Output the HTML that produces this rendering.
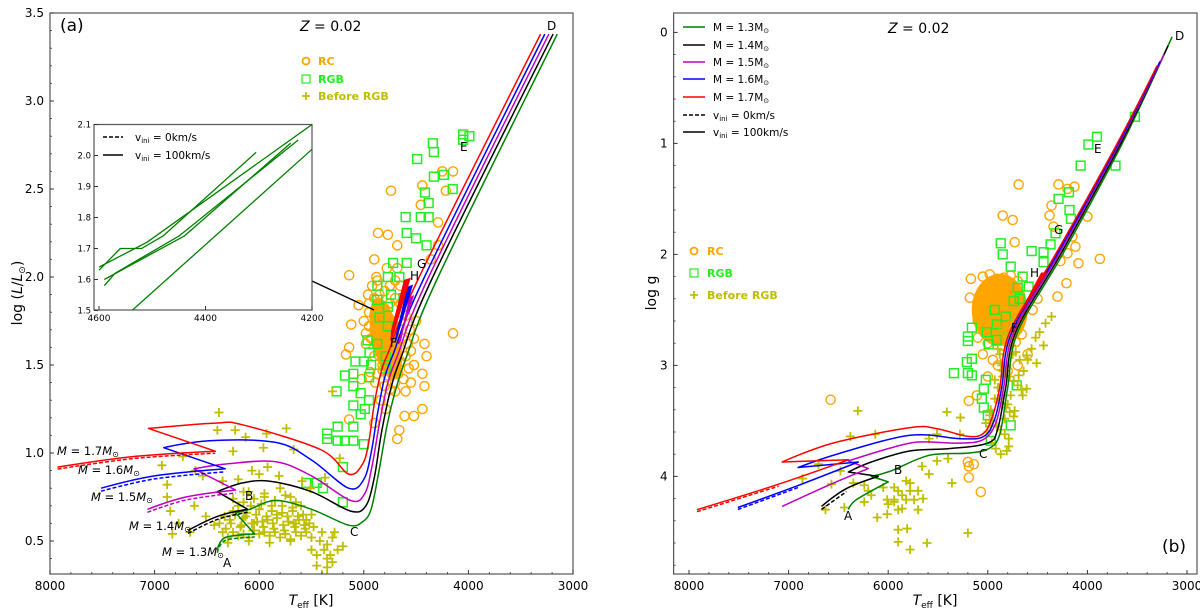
<!DOCTYPE html>
<html><head><meta charset="utf-8">
<style>
html,body{margin:0;padding:0;background:#fff;}
svg{display:block;font-family:"DejaVu Sans","Liberation Sans",sans-serif;}
</style></head>
<body>
<svg id="fig" width="1200" height="616" viewBox="0 0 1200 616" xmlns="http://www.w3.org/2000/svg"></svg>
<script>
// ---------- DATA: panel (a) tracks [Teff, logL] ----------
const trackA13 = [[6401,0.45],[6324,0.52],[6043,0.54],[6227,0.66],[6092,0.68],[5841,0.73],[5500,0.68],[5145,0.59],[5010,0.61],[4930,0.68],[4860,0.88],[4780,1.15],[4700,1.35],[4590,1.55],[4290,2.0],[3150,3.38]];
const trackA14 = [[6681,0.56],[6400,0.64],[6111,0.68],[6401,0.78],[6159,0.83],[5899,0.84],[5500,0.78],[5126,0.67],[4980,0.70],[4900,0.86],[4830,1.12],[4740,1.37],[4640,1.55],[4340,2.0],[3190,3.38]];
const trackA15 = [[7068,0.68],[6700,0.75],[6227,0.79],[6623,0.91],[6285,0.94],[5841,0.95],[5500,0.87],[5126,0.73],[4990,0.77],[4920,0.93],[4850,1.17],[4770,1.40],[4680,1.55],[4380,2.0],[3230,3.38]];
const trackA16 = [[7512,0.80],[7000,0.87],[6324,0.91],[6913,1.03],[6478,1.07],[5841,1.06],[5500,0.96],[5145,0.80],[5000,0.85],[4930,1.0],[4870,1.22],[4800,1.43],[4720,1.56],[4420,2.0],[3270,3.38]];
const trackA17 = [[7928,0.92],[7200,0.98],[6420,1.01],[7058,1.14],[6420,1.17],[6159,1.16],[5415,1.02],[5145,0.88],[5010,0.94],[4950,1.07],[4900,1.28],[4830,1.47],[4760,1.58],[4470,2.0],[3310,3.38]];
const clumpA = {red:[[4740,1.64],[4560,1.99],[4610,1.98],[4730,1.70]],blue:[[4700,1.63],[4540,1.95],[4580,1.94],[4690,1.66]],magenta:[[4670,1.62],[4530,1.89],[4560,1.88],[4650,1.64]]};
// ---------- DATA: panel (b) tracks [Teff, log g] ----------
const trackB13 = [[6400,4.30],[6320,4.21],[6000,4.05],[6170,4.00],[5970,3.95],[5590,3.81],[5200,3.79],[4990,3.75],[4880,3.62],[4800,3.2],[4700,2.7],[4250,2.0],[3650,1.0],[3150,0.04]];
const trackB14 = [[6670,4.27],[6420,4.11],[6100,4.00],[6400,3.96],[6170,3.87],[5780,3.77],[5390,3.75],[5000,3.70],[4900,3.57],[4820,3.2],[4720,2.7],[4270,2.0],[3665,1.0],[3190,0.12]];
const trackB15 = [[7065,4.27],[6600,4.08],[6200,3.93],[6400,3.86],[6000,3.75],[5700,3.69],[5300,3.70],[5050,3.67],[4920,3.52],[4840,3.2],[4740,2.7],[4290,2.0],[3680,1.0],[3230,0.2]];
const trackB16 = [[7510,4.28],[6900,4.08],[6300,3.87],[6905,3.92],[6480,3.79],[5780,3.63],[5280,3.66],[5040,3.64],[4930,3.48],[4860,3.2],[4760,2.7],[4305,2.0],[3690,1.0],[3270,0.26]];
const trackB17 = [[7920,4.30],[7100,4.07],[6400,3.85],[7065,3.87],[6555,3.70],[5780,3.56],[5510,3.57],[5200,3.64],[5040,3.61],[4950,3.45],[4880,3.2],[4780,2.7],[4320,2.0],[3700,1.0],[3300,0.3]];
const clumpB = [[4690,2.55],[4420,2.17],[4460,2.17],[4670,2.52]];
// ---------- DATA: inset (Teff, logL) for 1.3 Msun ----------
const insetLines = [
 [[4600,1.63],[4560,1.70],[4520,1.70],[4480,1.74],[4305,2.01]],
 [[4590,1.58],[4570,1.62],[4450,1.74],[4226,2.05]],
 [[4600,1.64],[4510,1.72],[4200,2.10]],
 [[4538,1.50],[4200,2.02]],
 [[4590,1.60],[4440,1.74],[4240,2.04]]];
// ---------- DATA: panel (a) stars ----------
const rcA_T = [4950,4900,4850,4800,4750,4700,4650,4950,4900,4850,4800,4750,4700,4650,4600,4950,4900,4850,4800,4750,4700,4650,4600,4930,4880,4830,4780,4730,4680,4630,4580,4900,4850,4800,4750,4700,4650,4600,4550,4870,4820,4770,4720,4670,4620,4570,4520,4800,4750,4700,4600,4550,4980,5000,4960,4880,4780,4680,4560,4520,4500,5140,4740,4864,4770,4680,4900,4250,4147,4215,4440,4455,4290,4147,5140,5170,5140,4900,4680,4660,4610,4520,4440,4420,4440,4400,4420,4290,4360,5120,5020,4700,4920,4870,4820,4980,5050,4940,4890,4840,4790];
const rcA_L = [1.85,1.88,1.90,1.92,1.95,1.98,1.95,1.80,1.78,1.80,1.82,1.85,1.88,1.85,1.90,1.72,1.70,1.72,1.74,1.76,1.72,1.75,1.78,1.65,1.62,1.64,1.66,1.62,1.60,1.65,1.62,1.55,1.55,1.57,1.52,1.55,1.52,1.55,1.58,1.45,1.47,1.44,1.48,1.45,1.42,1.48,1.50,1.38,1.36,1.40,1.35,1.40,1.62,1.75,1.90,2.00,2.05,2.05,1.70,1.65,1.75,2.01,2.49,2.25,2.24,2.18,2.10,2.60,2.60,2.49,2.52,2.41,2.31,1.68,1.60,1.56,1.19,1.17,1.08,1.13,1.21,1.21,1.25,1.38,1.45,1.55,1.62,2.18,2.10,1.73,1.42,1.35,1.95,1.98,1.50,1.68,1.84,1.46,1.40,1.30,1.25];
const rgbA_T = [4050,3990,4050,4340,4330,4490,4330,4235,4150,4415,4380,4600,4455,4380,4590,4500,4400,4720,4590,4870,4770,4660,4870,4740,4620,4770,4850,4770,4965,4870,4945,4790,5000,5080,4930,4790,5180,5100,4950,5260,5100,5030,4950,5100,5030,4990,5100,5250,5350,5350,5250,5180,5100,5000,5200,5550,5450,5390,5200];
const rgbA_L = [2.81,2.80,2.78,2.76,2.71,2.67,2.57,2.58,2.50,2.48,2.42,2.34,2.34,2.34,2.25,2.22,2.18,2.08,2.08,1.95,2.00,2.00,1.87,1.90,1.88,1.83,1.77,1.72,1.64,1.62,1.57,1.55,1.52,1.52,1.50,1.48,1.44,1.45,1.43,1.35,1.38,1.34,1.30,1.27,1.22,1.25,1.15,1.15,1.11,1.08,1.07,1.07,1.07,1.05,0.92,0.83,0.83,0.80,0.72];
const preA_T = [6385,6400,6230,5740,5930,6130,5670,5230,5300,5960,6250,6730,6930,6610,6540,6350,6880,6070,5920,5810,5590,5510,5370,6850,6770,6620,6510,6660,6830,6430,6880,6300,6200,6100,6000,5900,5800,5700,5600,5500,6320,6180,6060,5960,5860,5760,5660,5560,6280,6150,6020,5920,5830,5720,5620,5520,6250,6120,6000,5880,5780,5680,5580,5500,5450,5350,5300,5450,5350,5250,5200,5350,5400,5300,5400,5350,6100,6200,6000,5950,5800,5700,5600,5500,6150,6050,5650,
 6350,6250,6150,6050,5950,5850,5750,5650,5550,6380,6270,6170,6070,5970,5870,5770,5670,5570,6330,6230,6130,6030,5930,5830,5730,5630,6200,6080,5980,5880,5780,5680,6250,6050,5850,5650,6150,5950,5750,5550,6300,6100,5900,5700,5480,5420,5380,5320,5280];
const preA_L = [1.23,1.13,1.13,1.14,1.11,1.09,1.02,0.97,1.35,1.03,1.01,0.98,0.93,0.90,0.87,0.84,0.82,0.90,0.92,0.87,0.84,0.80,0.86,0.67,0.60,0.70,0.64,0.55,0.54,0.59,0.75,0.52,0.53,0.52,0.54,0.53,0.52,0.51,0.53,0.52,0.57,0.58,0.56,0.58,0.57,0.56,0.58,0.57,0.62,0.63,0.61,0.62,0.63,0.61,0.62,0.60,0.67,0.66,0.68,0.67,0.66,0.67,0.65,0.45,0.42,0.40,0.38,0.36,0.35,0.45,0.47,0.48,0.55,0.52,0.31,0.31,0.78,0.85,0.88,0.75,0.80,0.75,0.70,0.65,0.72,0.60,0.60,
 0.55,0.55,0.54,0.56,0.55,0.55,0.54,0.55,0.55,0.60,0.60,0.59,0.60,0.61,0.60,0.59,0.60,0.59,0.64,0.65,0.64,0.65,0.64,0.65,0.64,0.64,0.70,0.70,0.71,0.70,0.70,0.69,0.74,0.74,0.73,0.72,0.78,0.77,0.76,0.62,0.49,0.50,0.49,0.50,0.58,0.50,0.45,0.42,0.55];
// ---------- DATA: panel (b) stars ----------
const rcB_T = [6578,4690,3875,5070,5190,5190,5140,5200,4850,4750,4730,4290,4200,4130,4000,4210,4300,5170,5180,5190,5110,4360,4380,4340,4150,4200,4120,4270,4090,5050,4980,4910,4840,4770,4700,5040,4960,4890,4820,4750,4680,5030,4950,4880,4810,4740,4670,5060,4990,4920,4850,4780,4700,5020,4950,4870,4800,4730,4660,5000,4930,4860,4790,4720,5100,5100,5050,4950,4900,4800,4700,5000,4600,4550,4500];
const rcB_G = [3.31,1.37,2.04,4.14,4.01,3.91,3.89,3.87,1.65,1.69,1.89,1.37,1.41,1.39,1.66,2.26,2.38,2.22,2.39,3.32,3.27,1.56,1.65,1.75,1.84,1.99,1.93,2.06,2.08,2.20,2.18,2.22,2.21,2.19,2.24,2.32,2.30,2.34,2.33,2.31,2.36,2.44,2.42,2.46,2.45,2.43,2.48,2.56,2.54,2.58,2.57,2.55,2.60,2.68,2.66,2.70,2.69,2.67,2.72,2.80,2.78,2.82,2.81,2.79,2.60,2.75,2.90,2.95,3.00,3.05,3.00,3.10,2.90,2.50,2.40];
const rgbB_T = [3523,3904,3990,3718,4068,4185,4290,4180,4165,4320,4370,4560,4440,4440,4870,4850,4770,4650,4590,4700,4740,4680,4930,4820,4910,5160,5010,5200,5200,4990,5160,5210,5340,5200,5160,5020,5040,5060,5040,5000,4770,4970,4710,4910];
const rgbB_G = [0.76,0.94,1.01,1.20,1.20,1.44,1.50,1.60,1.68,1.81,1.91,1.97,1.98,2.07,1.90,2.00,2.11,2.20,2.29,2.30,2.42,2.40,2.50,2.56,2.63,2.66,2.70,2.74,2.78,2.81,2.94,2.97,3.07,3.07,3.09,3.13,3.21,3.30,3.38,3.45,3.54,3.68,3.18,2.77];
const preB_T = [6305,5411,5275,6380,6130,5590,5400,5510,5660,5590,5360,5780,5900,5820,5940,5900,6010,6110,6630,6440,6240,6200,6350,6480,6700,6860,6570,5900,5810,5900,5780,5610,5200,4870,4810,4790,4830,4650,4610,4510,4440,4360,4610,4690,4770,4730,4850,4870,4930,4970,5280,5510,5780,5860,5940,5820,5740,5940,5860,6010,5700,6050,6170,6240,5700,5650,6000,4900,4800,4750,4700,4850,4900,4800,
 4880,4840,4800,4760,4720,4680,4860,4820,4780,4740,4700,4660,4900,4860,4820,4780,4740,4950,4910,4870,4830,4790,4970,4930,4890,4850,4810,4640,4600,4560,4520,4480,4420,5000,4960,4920,5020,4980,4880,4760];
const preB_G = [3.41,3.42,3.47,3.64,3.62,3.66,3.84,3.86,3.91,3.98,4.06,4.06,4.13,4.21,4.23,4.30,4.34,4.37,4.30,4.28,4.23,4.13,4.06,3.95,3.89,4.02,4.07,4.48,4.47,4.59,4.66,4.60,4.51,3.80,3.77,3.73,3.48,3.27,3.21,2.98,2.82,2.56,2.91,3.09,3.27,3.41,3.27,2.98,3.13,3.55,3.62,3.62,4.13,4.17,4.10,4.04,4.21,4.21,4.29,4.21,4.13,4.10,4.17,4.08,4.30,4.20,4.25,2.85,2.75,2.90,2.70,3.05,3.20,3.35,
 2.65,2.70,2.78,2.82,2.88,2.95,3.00,3.05,3.10,3.14,3.18,3.22,3.30,3.34,3.38,3.42,3.46,3.50,3.55,3.58,3.62,3.66,3.40,3.30,3.20,3.10,3.00,3.05,2.95,2.85,2.75,2.70,2.62,3.60,3.70,3.75,3.52,3.45,2.90,2.60];
// ticks
const xTicks = [8000,7000,6000,5000,4000,3000];
const yTicksA = [0.5,1.0,1.5,2.0,2.5,3.0,3.5];
const yTicksB = [0,1,2,3,4];
const insetXTicks = [4600,4400,4200];
const insetYTicks = [1.5,1.6,1.7,1.8,1.9,2.0,2.1];

// ---------- scales ----------
const xa = T => 50 + (8000 - T) * 0.1046;
const ya = L => 13 + (3.5 - L) * 176;
const xb = T => 689 + (8000 - T) * 0.0996;
const yb = g => 32.4 + g * 111;
const xi = T => 99 + (4600 - T) * 0.5325;
const yi = L => 124.5 + (2.1 - L) * 310;

const NS = "http://www.w3.org/2000/svg";
const svg = document.getElementById('fig');
function mk(tag, attrs, parent) {
  const e = document.createElementNS(NS, tag);
  for (const k in attrs) e.setAttribute(k, attrs[k]);
  (parent || svg).appendChild(e);
  return e;
}
function txt(x, y, s, size, parent, extra) {
  const t = mk('text', Object.assign({x:x, y:y, 'font-size':size, fill:'#000'}, extra || {}), parent);
  t.textContent = s;
  return t;
}
const COL = {m13:'#008000', m14:'#000000', m15:'#bf00bf', m16:'#0000ff', m17:'#ff0000'};

function panel(name, x0, y0, x1, y1) {
  const g = mk('g', {});
  
  
  const cp = mk('clipPath', {id: name + '-clip'}, g);
  mk('rect', {x:x0, y:y0, width:x1-x0, height:y1-y0}, cp);
  const plot = mk('g', {'clip-path': 'url(#' + name + '-clip)'}, g);
  
  
  return {g, plot};
}

function scatter(parent, Ts, Vs, xf, yf, kind, label) {
  const grp = mk('g', {}, parent);
  
  
  for (let i = 0; i < Ts.length; i++) {
    const x = xf(Ts[i]), y = yf(Vs[i]);
    let el;
    if (kind === 'rc') el = mk('circle', {cx:x, cy:y, r:4.6, fill:'none', stroke:'#ffa500', 'stroke-width':1.4}, grp);
    else if (kind === 'rgb') el = mk('rect', {x:x-4.4, y:y-4.4, width:8.8, height:8.8, fill:'none', stroke:'#22ee22', 'stroke-width':1.5}, grp);
    else el = mk('path', {d:`M${x-4.5},${y}H${x+4.5}M${x},${y-4.5}V${y+4.5}`, stroke:'#bfbf00', 'stroke-width':1.8}, grp);
    
    
  }
}

// smooth path (Catmull-Rom), with corners where x-direction reverses
function smoothD(P) {
  const n = P.length;
  const tan = P.map((p, i) => {
    if (i === 0 || i === n - 1) return [0, 0];
    const dxa = p[0] - P[i-1][0], dxb = P[i+1][0] - p[0];
    if (dxa * dxb < 0) return [0, 0];
    return [(P[i+1][0] - P[i-1][0]) / 6, (P[i+1][1] - P[i-1][1]) / 6];
  });
  let d = 'M' + P[0][0].toFixed(1) + ',' + P[0][1].toFixed(1);
  for (let i = 0; i < n - 1; i++) {
    const p1 = P[i], p2 = P[i+1];
    const c1 = [p1[0] + tan[i][0], p1[1] + tan[i][1]];
    const c2 = [p2[0] - tan[i+1][0], p2[1] - tan[i+1][1]];
    d += 'C' + c1.map(v=>v.toFixed(1)).join(',') + ' ' + c2.map(v=>v.toFixed(1)).join(',') + ' ' + p2[0].toFixed(1) + ',' + p2[1].toFixed(1);
  }
  return d;
}
function track(parent, pts, xf, yf, color, label, dash, w, straight) {
  const P = pts.map(p => [xf(p[0]), yf(p[1])]);
  const d = straight ? P.map((p, i) => (i ? 'L' : 'M') + p[0].toFixed(1) + ',' + p[1].toFixed(1)).join('') : smoothD(P);
  const el = mk('path', {d:d, fill:'none', stroke:color, 'stroke-width':w || 1.5, 'stroke-linejoin':'round', 'stroke-dasharray': dash || 'none'}, parent);
  
  
  return el;
}
function wedge(parent, pts, xf, yf, color, label) {
  const d = pts.map((p, i) => (i ? 'L' : 'M') + xf(p[0]).toFixed(1) + ',' + yf(p[1]).toFixed(1)).join('') + 'Z';
  const el = mk('path', {d:d, fill:color, stroke:color, 'stroke-width':1.5}, parent);
  
  
}

function axes(parent, name, x0, y0, x1, y1, xf, yf, xt, yt, yfmt, minorX, minorY) {
  const ax = mk('g', {}, parent);
  
  
  mk('rect', {x:x0, y:y0, width:x1-x0, height:y1-y0, fill:'none', stroke:'#555', 'stroke-width':1.2}, ax);
  xt.forEach(T => {
    const x = xf(T);
    mk('line', {x1:x, y1:y1, x2:x, y2:y1-4, stroke:'#333', 'stroke-width':1}, ax);
    const t = txt(x, y1 + 16, String(T), 12, ax, {'text-anchor':'middle'});
    
    
  });
  minorX.forEach(T => { const x = xf(T); if (x > x0 && x < x1) mk('line', {x1:x, y1:y1, x2:x, y2:y1-2, stroke:'#333', 'stroke-width':0.8}, ax); });
  yt.forEach(v => {
    const y = yf(v);
    mk('line', {x1:x0, y1:y, x2:x0+4, y2:y, stroke:'#333', 'stroke-width':1}, ax);
    const t = txt(x0 - 6, y + 4, yfmt(v), 12, ax, {'text-anchor':'end'});
    
    
  });
  minorY.forEach(v => { const y = yf(v); if (y > y0 && y < y1) mk('line', {x1:x0, y1:y, x2:x0+2, y2:y, stroke:'#333', 'stroke-width':0.8}, ax); });
}
const minorXT = [7800,7600,7400,7200,6800,6600,6400,6200,5800,5600,5400,5200,4800,4600,4400,4200,3800,3600,3400,3200];

// ================= PANEL A =================
const A = panel('panel-a', 50, 13, 573, 574);
const blobA = mk('ellipse', {cx:xa(4790), cy:ya(1.65), rx:14, ry:42, fill:'#ffa500', transform:`rotate(-12 ${xa(4790)} ${ya(1.65)})`}, A.plot);


scatter(A.plot, rcA_T, rcA_L, xa, ya, 'rc', 'rc-stars');
scatter(A.plot, rgbA_T, rgbA_L, xa, ya, 'rgb', 'rgb-stars');
scatter(A.plot, preA_T, preA_L, xa, ya, 'pre', 'before-rgb-stars');
track(A.plot, trackA13, xa, ya, COL.m13, 'track-1.3');
track(A.plot, trackA14, xa, ya, COL.m14, 'track-1.4');
track(A.plot, trackA15, xa, ya, COL.m15, 'track-1.5');
track(A.plot, trackA16, xa, ya, COL.m16, 'track-1.6');
track(A.plot, trackA17, xa, ya, COL.m17, 'track-1.7');
track(A.plot, trackA13.slice(0,3), xa, v => ya(v) + 3, COL.m13, 'track-1.3-norot', '4,2');
track(A.plot, trackA14.slice(0,3), xa, v => ya(v) + 3, COL.m14, 'track-1.4-norot', '4,2');
track(A.plot, trackA15.slice(0,3), xa, v => ya(v) + 3, COL.m15, 'track-1.5-norot', '4,2');
track(A.plot, trackA16.slice(0,3), xa, v => ya(v) + 3, COL.m16, 'track-1.6-norot', '4,2');
track(A.plot, trackA17.slice(0,3), xa, v => ya(v) + 2, COL.m17, 'track-1.7-norot', '4,2');
wedge(A.plot, clumpA.magenta, xa, ya, COL.m15, 'clump-1.5');
wedge(A.plot, clumpA.blue, xa, ya, COL.m16, 'clump-1.6');
wedge(A.plot, clumpA.red, xa, ya, COL.m17, 'clump-1.7');
axes(A.g, 'panel-a', 50, 13, 573, 574, xa, ya, xTicks, yTicksA, v => v.toFixed(1), minorXT, [0.6,0.7,0.8,0.9,1.1,1.2,1.3,1.4,1.6,1.7,1.8,1.9,2.1,2.2,2.3,2.4,2.6,2.7,2.8,2.9,3.1,3.2,3.3,3.4,0.4]);

// inset
const ins = mk('g', {}, A.g);


const conn = mk('line', {x1:312, y1:281, x2:374, y2:310, stroke:'#000', 'stroke-width':1.3}, ins);


mk('rect', {x:94, y:124.5, width:218, height:185.5, fill:'#fff', stroke:'#555', 'stroke-width':1.2}, ins);
const icp = mk('clipPath', {id:'inset-clip'}, ins);
mk('rect', {x:94, y:124.5, width:218, height:185.5}, icp);
const iplot = mk('g', {'clip-path':'url(#inset-clip)'}, ins);
insetLines.forEach(l => track(iplot, l, xi, yi, COL.m13, 'inset-track-1.3', null, 1.3, true));
insetXTicks.forEach(T => { const x = xi(T); mk('line', {x1:x, y1:310, x2:x, y2:306, stroke:'#333'}, ins); const t = txt(x, 321, String(T), 9, ins, {'text-anchor':'middle'});   });
insetYTicks.forEach(v => { const y = yi(v); mk('line', {x1:94, y1:y, x2:98, y2:y, stroke:'#333'}, ins); const t = txt(91, y + 3, v.toFixed(1), 8.5, ins, {'text-anchor':'end'});   });
const il1 = mk('line', {x1:103, y1:137, x2:123, y2:137, stroke:'#000', 'stroke-width':1.5, 'stroke-dasharray':'4,2'}, ins);
 
const il2 = mk('line', {x1:103, y1:155, x2:123, y2:155, stroke:'#000', 'stroke-width':1.5}, ins);
 
const it1 = mk('text', {x:135, y:141, 'font-size':10.5}, ins); it1.innerHTML = 'v<tspan font-size="7" dy="2">ini</tspan><tspan dy="-2"> = 0km/s</tspan>';
 
const it2 = mk('text', {x:135, y:159, 'font-size':10.5}, ins); it2.innerHTML = 'v<tspan font-size="7" dy="2">ini</tspan><tspan dy="-2"> = 100km/s</tspan>';
 

function label(parent, x, y, s, size, name, extra) {
  const t = txt(x, y, s, size, parent, extra);
  
  
  return t;
}
label(A.g, 60, 31, '(a)', 17, 'panel-a-tag');
const za = mk('text', {x:300, y:31, 'font-size':14}, A.g); za.innerHTML = '<tspan font-style="italic">Z</tspan> = 0.02';
 
[['D',547,30],['E',460,151],['G',417,268],['H',410,280],['F',390,347],['C',350,536],['B',245,500],['A',223,567]].forEach(p => label(A.g, p[1], p[2], p[0], 12, 'point-label-' + p[0]));
[['1.7',57,455],['1.6',78,474],['1.5',91,501],['1.4',129,530],['1.3',162,556]].forEach(p => {
  const t = mk('text', {x:p[1], y:p[2], 'font-size':11.5}, A.g);
  t.innerHTML = '<tspan font-style="italic">M</tspan> = ' + p[0] + '<tspan font-style="italic">M</tspan><tspan font-size="8" dy="2">⊙</tspan>';
  
  
});
const legA = mk('g', {}, A.g);
 
mk('circle', {cx:306, cy:61, r:3.5, fill:'none', stroke:'#ffa500', 'stroke-width':1.8}, legA);
label(legA, 318, 65, 'RC', 11, 'legend-rc', {'font-weight':'bold', fill:'#ffa500'});
mk('rect', {x:302, y:75, width:8, height:8, fill:'none', stroke:'#22ee22', 'stroke-width':1.2}, legA);
label(legA, 318, 83, 'RGB', 11, 'legend-rgb', {'font-weight':'bold', fill:'#22ee22'});
mk('path', {d:'M302,96H310M306,92V100', stroke:'#bfbf00', 'stroke-width':1.8}, legA);
label(legA, 318, 100, 'Before RGB', 11, 'legend-before-rgb', {'font-weight':'bold', fill:'#bfbf00'});
const xtA = mk('text', {x:311, y:605, 'font-size':14, 'text-anchor':'middle'}, A.g);
xtA.innerHTML = '<tspan font-style="italic">T</tspan><tspan font-size="9" dy="3">eff</tspan><tspan dy="-3"> [K]</tspan>';
 
const ytA = mk('text', {x:0, y:0, 'font-size':14, 'text-anchor':'middle', transform:'translate(22,293) rotate(-90)'}, A.g);
ytA.innerHTML = 'log (<tspan font-style="italic">L</tspan>/<tspan font-style="italic">L</tspan><tspan font-size="9" dy="3">⊙</tspan><tspan dy="-3">)</tspan>';
 

// ================= PANEL B =================
const B = panel('panel-b', 673.6, 13, 1197, 574);
const blobB = mk('ellipse', {cx:xb(4880), cy:yb(2.5), rx:28, ry:36, fill:'#ffa500'}, B.plot);


scatter(B.plot, rcB_T, rcB_G, xb, yb, 'rc', 'rc-stars');
scatter(B.plot, rgbB_T, rgbB_G, xb, yb, 'rgb', 'rgb-stars');
scatter(B.plot, preB_T, preB_G, xb, yb, 'pre', 'before-rgb-stars');
track(B.plot, trackB13, xb, yb, COL.m13, 'track-1.3');
track(B.plot, trackB14, xb, yb, COL.m14, 'track-1.4');
track(B.plot, trackB15, xb, yb, COL.m15, 'track-1.5');
track(B.plot, trackB16, xb, yb, COL.m16, 'track-1.6');
track(B.plot, trackB17, xb, yb, COL.m17, 'track-1.7');
track(B.plot, trackB14.slice(0,2), xb, v => yb(v) + 3, COL.m14, 'track-1.4-norot', '4,2');
track(B.plot, trackB16.slice(0,2), xb, v => yb(v) + 2, COL.m16, 'track-1.6-norot', '4,2');
track(B.plot, trackB17.slice(0,2), xb, v => yb(v) + 2, COL.m17, 'track-1.7-norot', '4,2');
wedge(B.plot, clumpB, xb, yb, COL.m17, 'clump-1.7');
axes(B.g, 'panel-b', 673.6, 13, 1197, 574, xb, yb, xTicks, yTicksB, v => String(v), minorXT, [0.2,0.4,0.6,0.8,1.2,1.4,1.6,1.8,2.2,2.4,2.6,2.8,3.2,3.4,3.6,3.8,4.2,4.4,4.6,4.8]);
label(B.g, 1162, 552, '(b)', 17, 'panel-b-tag');
const zb = mk('text', {x:888, y:33, 'font-size':14}, B.g); zb.innerHTML = '<tspan font-style="italic">Z</tspan> = 0.02';
 
[['D',1175,40],['E',1094,153],['G',1054,234],['H',1030,277],['F',1011,332],['C',979,458],['B',894,474],['A',844,520]].forEach(p => label(B.g, p[1], p[2], p[0], 12, 'point-label-' + p[0]));
const legB = mk('g', {}, B.g);
 
[['1.3',COL.m13,27],['1.4',COL.m14,45],['1.5',COL.m15,62],['1.6',COL.m16,79],['1.7',COL.m17,97]].forEach(p => {
  const l = mk('line', {x1:683, y1:p[2], x2:705, y2:p[2], stroke:p[1], 'stroke-width':1.6}, legB);
   
  const t = mk('text', {x:713, y:p[2] + 4, 'font-size':10.5}, legB);
  t.innerHTML = 'M = ' + p[0] + 'M<tspan font-size="7" dy="2">⊙</tspan>';
   
});
const lb1 = mk('line', {x1:683, y1:115, x2:705, y2:115, stroke:'#000', 'stroke-width':1.6, 'stroke-dasharray':'4,2'}, legB);
 
const lb2 = mk('line', {x1:683, y1:132, x2:705, y2:132, stroke:'#000', 'stroke-width':1.6}, legB);
 
const lt1 = mk('text', {x:713, y:119, 'font-size':10.5}, legB); lt1.innerHTML = 'v<tspan font-size="7" dy="2">ini</tspan><tspan dy="-2"> = 0km/s</tspan>';
 
const lt2 = mk('text', {x:713, y:136, 'font-size':10.5}, legB); lt2.innerHTML = 'v<tspan font-size="7" dy="2">ini</tspan><tspan dy="-2"> = 100km/s</tspan>';
 
const legB2 = mk('g', {}, B.g);
 
mk('circle', {cx:694, cy:251, r:3.5, fill:'none', stroke:'#ffa500', 'stroke-width':1.8}, legB2);
label(legB2, 707, 255, 'RC', 11, 'legend-rc', {'font-weight':'bold', fill:'#ffa500'});
mk('rect', {x:690, y:269, width:8, height:8, fill:'none', stroke:'#22ee22', 'stroke-width':1.2}, legB2);
label(legB2, 707, 277, 'RGB', 11, 'legend-rgb', {'font-weight':'bold', fill:'#22ee22'});
mk('path', {d:'M690,295H698M694,291V299', stroke:'#bfbf00', 'stroke-width':1.8}, legB2);
label(legB2, 707, 299, 'Before RGB', 11, 'legend-before-rgb', {'font-weight':'bold', fill:'#bfbf00'});
const xtB = mk('text', {x:935, y:605, 'font-size':14, 'text-anchor':'middle'}, B.g);
xtB.innerHTML = '<tspan font-style="italic">T</tspan><tspan font-size="9" dy="3">eff</tspan><tspan dy="-3"> [K]</tspan>';
 
const ytB = mk('text', {x:0, y:0, 'font-size':14, 'text-anchor':'middle', transform:'translate(656,293) rotate(-90)'}, B.g);
ytB.textContent = 'log g';
 
</script>
</body></html>
